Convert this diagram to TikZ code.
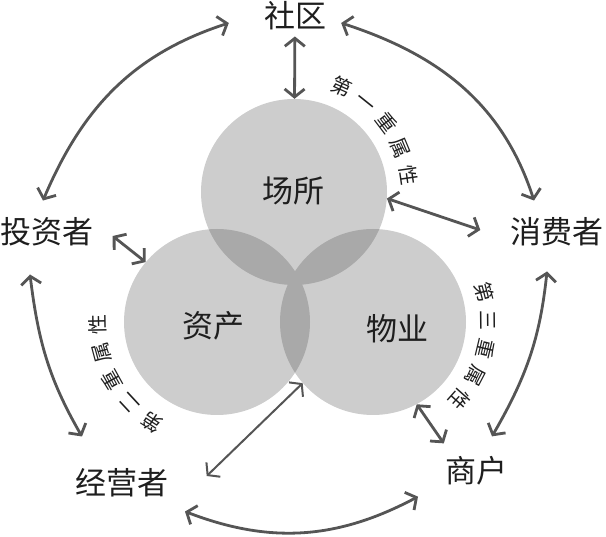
\documentclass[tikz,border=0pt]{standalone}
\usepackage{fontspec}
\newfontfamily\cjk{Noto Sans CJK SC}
\usepackage{tikz}
\usetikzlibrary{arrows.meta,decorations.text}
\definecolor{discgray}{HTML}{CDCDCD}
\definecolor{lensgray}{HTML}{A9A9A9}
\definecolor{linkgray}{HTML}{555555}
\definecolor{inkblack}{HTML}{1E1E1E}

\begin{document}
\begin{tikzpicture}[
  x=1pt,y=1pt,
  >={Straight Barb[length=8pt,width=20pt]},
  disc/.style={circle,fill=discgray,minimum size=186pt,inner sep=0pt},
  role/.style={font=\cjk\fontsize{31}{31}\selectfont,text=inkblack,inner sep=0pt},
  link/.style={<->,line width=2.8pt,draw=linkgray},
  slim/.style={line width=2pt},
  tier/.style={decorate,decoration={text along path,text align={fit to path},
               text color=inkblack,text={|\cjk\fontsize{20}{20}\selectfont|#1}}},
]
  \useasboundingbox (0,0) rectangle (606,-537);

  % the three discs
  \node[disc] (place)  at (294,-192) {};
  \node[disc] (asset)  at (217,-322) {};
  \node[disc] (estate) at (373,-322) {};
  \begin{scope}
    \clip (place.center) circle[radius=93];
    \fill[lensgray] (asset.center) circle[radius=93];
    \fill[lensgray] (estate.center) circle[radius=93];
  \end{scope}
  \begin{scope}
    \clip (asset.center) circle[radius=93];
    \fill[lensgray] (estate.center) circle[radius=93];
  \end{scope}

  \node[role] (placetxt)  at (293,-191) {场所};
  \node[role] (assettxt)  at (213,-326) {资产};
  \node[role] (estatetxt) at (397,-329) {物业};

  % parties
  \node[role] (shequ)    at (295,-16)  {社区};
  \node[role] (invest)   at (47,-232)  {投资者};
  \node[role] (consumer) at (557,-232) {消费者};
  \node[role] (operator) at (122,-483) {经营者};
  \node[role] (merchant) at (476,-471) {商户};

  \draw[link,shorten <=6pt] (shequ) -- (place);
  \draw[link] ([xshift=-35pt,yshift=-7pt]shequ.west) to[out=198,in=67]
              ([xshift=-4pt,yshift=17pt]invest.north);
  \draw[link] ([xshift=15pt,yshift=-7pt]shequ.east) to[out=-18,in=108]
              ([xshift=-23pt,yshift=17pt]consumer.north);
  \draw[link] ([xshift=19pt,yshift=-4pt]invest.east) -- (asset.140);
  \draw[link] (place.-4) -- ([xshift=-30pt,yshift=2pt]consumer.west);
  \draw[link] ([xshift=-17pt,yshift=-28pt]invest.south) to[out=-83,in=120]
              ([xshift=-40pt,yshift=32pt]operator.north);
  \draw[link] ([xshift=-10pt,yshift=-25pt]consumer.south) to[out=264,in=60]
              ([xshift=16pt,yshift=20pt]merchant.north);
  \draw[link] (estate.-62) -- ([xshift=-1pt,yshift=13pt]merchant.north west);
  \draw[link,slim] (estate.221) -- ([xshift=38pt,yshift=7pt]operator.east);
  \draw[link] ([xshift=63pt,yshift=-14pt]operator.south) to[out=-21,in=208]
              ([xshift=-58pt,yshift=-11pt]merchant.south);

  % attribute labels along the discs
  \path[tier=第一重属性] ([shift={(71:108)}]place.center)
       arc[start angle=71,end angle=3,radius=108];
  \path[tier=第二重属性] ([shift={(242:112)}]asset.center)
       arc[start angle=242,end angle=176,radius=112];
  \path[tier=第三重属性] ([shift={(20:108)}]estate.center)
       arc[start angle=20,end angle=-47,radius=108];
\end{tikzpicture}
\end{document}
